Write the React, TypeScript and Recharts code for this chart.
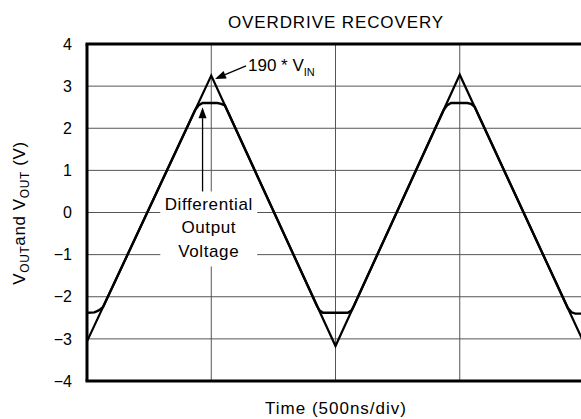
import React from "react";
import {
  LineChart,
  Line,
  XAxis,
  YAxis,
  CartesianGrid,
  ReferenceArea,
  ReferenceLine,
  Customized,
} from "recharts";

// time in divisions (500ns/div)
const divTicks = [0, 1, 2, 3, 4];
const voltTicks = [-4, -3, -2, -1, 0, 1, 2, 3, 4];

// 190 * VIN triangle
const inTime = [0, 1, 2, 3, 4];
const inVolts = [-3.06, 3.25, -3.17, 3.27, -3.1];

// differential output voltage (clips near +2.6 / -2.4)
const outTime = [0, 0.06, 0.09, 0.11, 0.13, 0.87, 0.9, 0.93, 1.05, 1.08, 1.11, 1.85, 1.87, 1.9, 2.1, 2.13, 2.15, 2.87, 2.9, 2.93, 3.06, 3.09, 3.12, 3.87, 3.9, 3.93, 4];
const outVolts = [-2.38, -2.37, -2.33, -2.29, -2.24, 2.43, 2.55, 2.6, 2.6, 2.58, 2.54, -2.21, -2.32, -2.38, -2.38, -2.32, -2.2, 2.43, 2.55, 2.6, 2.6, 2.58, 2.51, -2.27, -2.37, -2.4, -2.4];

const inData = inTime.map((t, i) => ({ t, v: inVolts[i] }));
const outData = outTime.map((t, i) => ({ t, v: outVolts[i] }));

const FONT = "'Liberation Sans', Arial, sans-serif";

const fmt = (v: number) => (v < 0 ? "\u2212" + Math.abs(v) : String(v));

// line with an arrowhead at its second end
const arrowShape = (p: any) => {
  const { x1, y1, x2, y2 } = p;
  const ang = Math.atan2(y2 - y1, x2 - x1);
  const len = 11;
  const w = 4;
  const bx = x2 - len * Math.cos(ang);
  const by = y2 - len * Math.sin(ang);
  const px = -Math.sin(ang) * w;
  const py = Math.cos(ang) * w;
  return (
    <g>
      <line x1={x1} y1={y1} x2={bx} y2={by} stroke="#000" strokeWidth={1.3} />
      <polygon points={`${x2},${y2} ${bx + px},${by + py} ${bx - px},${by - py}`} fill="#000" />
    </g>
  );
};

// text inside the white box that breaks the grid
const DiffLabel = (props: any) => {
  const vb = props.viewBox || { x: 0, y: 0, width: 0 };
  const cx = vb.x + vb.width / 2;
  return (
    <g fontFamily={FONT} fontSize={17} fill="#000" letterSpacing={0.6}>
      <text x={cx} y={vb.y + 19} textAnchor="middle">Differential</text>
      <text x={cx} y={vb.y + 42} textAnchor="middle">Output</text>
      <text x={cx} y={vb.y + 66} textAnchor="middle">Voltage</text>
    </g>
  );
};

const Decor = () => (
  <g fontFamily={FONT} fill="#000">
    <text x={336} y={28} textAnchor="middle" fontSize={17} letterSpacing={0.9}>
      OVERDRIVE RECOVERY
    </text>
    <text x={336} y={414} textAnchor="middle" fontSize={17} letterSpacing={1}>
      Time (500ns/div)
    </text>
    <text x={25} y={213} transform="rotate(-90 25 213)" textAnchor="middle" fontSize={17} letterSpacing={0.6}>
      V<tspan fontSize={12} dy={4}>OUT</tspan>
      <tspan dy={-4}>and V</tspan>
      <tspan fontSize={12} dy={4}>OUT</tspan>
      <tspan dy={-4}> (V)</tspan>
    </text>
    <text x={248} y={71} fontSize={17}>
      190 * V<tspan fontSize={11} dy={5}>IN</tspan>
    </text>
    <line x1={87} y1={44} x2={87} y2={381} stroke="#000" strokeWidth={3} />
    <line x1={85.5} y1={44} x2={600} y2={44} stroke="#000" strokeWidth={3} />
    <line x1={85.5} y1={381} x2={600} y2={381} stroke="#000" strokeWidth={3} />
  </g>
);

export default function App() {
  return (
    <div style={{ position: "absolute", left: 0, top: 0, width: 581, height: 419, overflow: "hidden", background: "#fff" }}>
      <LineChart width={600} height={419} margin={{ top: 44, right: 16, bottom: 0, left: 0 }}>
        <CartesianGrid stroke="#555" strokeWidth={1} />
        <XAxis
          dataKey="t"
          type="number"
          domain={[0, 4]}
          ticks={divTicks}
          tickFormatter={() => ""}
          axisLine={false}
          tickLine={false}
          height={38}
          allowDuplicatedCategory={false}
        />
        <YAxis
          type="number"
          domain={[-4, 4]}
          ticks={voltTicks}
          tickFormatter={fmt}
          width={87}
          axisLine={false}
          tickLine={false}
          tickSize={0}
          tickMargin={15}
          tick={{ fill: "#000", fontSize: 16, fontFamily: FONT }}
        />
        <ReferenceArea
          x1={0.59}
          x2={1.37}
          y1={-1.28}
          y2={0.5}
          fill="#fff"
          fillOpacity={1}
          stroke="none"
          label={<DiffLabel />}
        />
        <Line data={inData} dataKey="v" type="linear" stroke="#000" strokeWidth={2.2} dot={false} isAnimationActive={false} />
        <Line data={outData} dataKey="v" type="linear" stroke="#000" strokeWidth={2.4} dot={false} isAnimationActive={false} />
        <ReferenceLine segment={[{ x: 0.93, y: 0.5 }, { x: 0.93, y: 2.5 }]} shape={arrowShape} />
        <ReferenceLine segment={[{ x: 1.28, y: 3.48 }, { x: 1.03, y: 3.17 }]} shape={arrowShape} />
        <Customized component={Decor} />
      </LineChart>
    </div>
  );
}
